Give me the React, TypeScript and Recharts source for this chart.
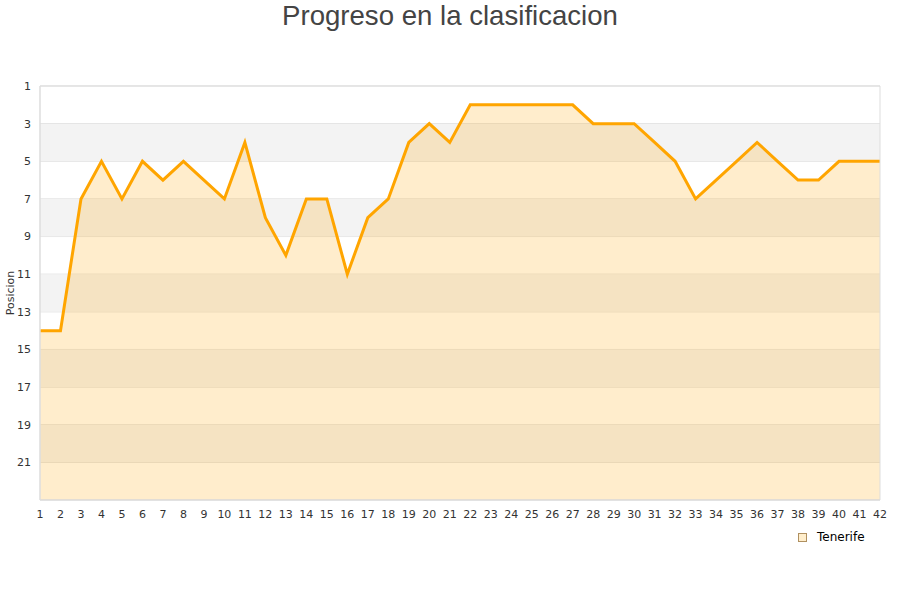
import React from 'react';
import { ComposedChart, Area, XAxis, YAxis, CartesianGrid, ReferenceArea, Label } from 'recharts';

const jornadas = [1,2,3,4,5,6,7,8,9,10,11,12,13,14,15,16,17,18,19,20,21,22,23,24,25,26,27,28,29,30,31,32,33,34,35,36,37,38,39,40,41,42];
const posiciones = [14,14,7,5,7,5,6,5,6,7,4,8,10,7,7,11,8,7,4,3,4,2,2,2,2,2,2,3,3,3,4,5,7,6,5,4,5,6,6,5,5,5];
const yTicks = [1,3,5,7,9,11,13,15,17,19,21];
const bands = [[3,5],[7,9],[11,13],[15,17],[19,21]];

const data = jornadas.map((j, i) => ({ jornada: j, pos: posiciones[i] }));

const font = 'DejaVu Sans, sans-serif';

export default function App() {
  return (
    <div style={{ position: 'absolute', left: 0, top: 0, width: 900, height: 600, background: '#fff' }}>
      <div style={{ position: 'absolute', left: 0, top: 0, width: 900, textAlign: 'center', fontFamily: 'Liberation Sans, Arial, sans-serif', fontSize: 27.6, color: '#444', lineHeight: '32px' }}>
        Progreso en la clasificacion
      </div>
      <ComposedChart width={900} height={600} data={data} margin={{ top: 86, right: 20, bottom: 70, left: 0 }}>
        {bands.map(([a, b]) => (
          <ReferenceArea key={a} x1={1} x2={42} y1={a} y2={b} fill="#f3f3f3" fillOpacity={1} stroke="none" ifOverflow="extendDomain" />
        ))}
        <CartesianGrid vertical={false} stroke="#dddddd" />
        <XAxis dataKey="jornada" type="number" domain={[1, 42]} ticks={jornadas} interval={0} tickLine={false} axisLine={{ stroke: '#dddddd' }} height={30} tick={{ fontSize: 11, fill: '#333', fontFamily: font }} tickMargin={4} />
        <YAxis type="number" domain={[1, 23]} reversed ticks={yTicks} interval={0} tickLine={false} axisLine={{ stroke: '#dddddd' }} width={40} tick={{ fontSize: 11, fill: '#333', fontFamily: font }} tickMargin={3}>
          <Label value="Posicion" angle={-90} position="insideLeft" offset={10} style={{ fontSize: 11, fill: '#333', fontFamily: font, textAnchor: 'middle' }} />
        </YAxis>
        <Area type="linear" dataKey="pos" baseValue={23} stroke="#ffa500" strokeWidth={3} fill="#ffa500" fillOpacity={0.2} dot={false} activeDot={false} isAnimationActive={false} />
        <ReferenceArea x1={1} x2={42} y1={1} y2={23} fill="none" stroke="#dddddd" ifOverflow="extendDomain" />
      </ComposedChart>
      <div style={{ position: 'absolute', left: 798, top: 530, display: 'flex', alignItems: 'center', fontFamily: font, fontSize: 12, color: '#000' }}>
        <span style={{ display: 'inline-block', width: 7, height: 7, background: '#ffeecc', border: '1px solid #b09060', marginRight: 10 }} />
        <span>Tenerife</span>
      </div>
    </div>
  );
}
